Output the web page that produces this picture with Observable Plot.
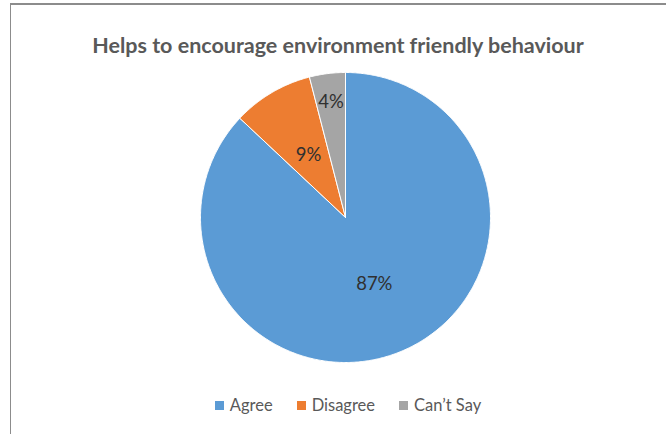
<!DOCTYPE html>
<html>
<head>
<meta charset="utf-8">
<script src="https://cdn.jsdelivr.net/npm/d3@7"></script>
<script src="https://cdn.jsdelivr.net/npm/@observablehq/plot@0.6"></script>
<style>
  body { margin: 0; background: #fff; }
  #wrap { position: relative; width: 666px; height: 434px; overflow: hidden; background: #fff; font-family: Lato, "Open Sans", sans-serif; }
  .bt { position: absolute; left: 10px; top: 3px; width: 656px; height: 2px; background: #8c8c8c; }
  .bl { position: absolute; left: 10px; top: 3px; width: 1px; height: 431px; background: #8c8c8c; }
  #title { position: absolute; left: 10px; width: 656px; top: 31px; text-align: center; font-size: 21.5px; font-weight: bold; color: #595959; line-height: 28px; }
  #chart { position: absolute; left: 0; top: 62px; }
  #legend { position: absolute; left: 0; width: 666px; top: 394px; display: flex; justify-content: center; gap: 24px; font-size: 16.5px; color: #595959; padding-left: 30px; box-sizing: border-box; line-height: 22px; }
  #legend span.item { display: inline-flex; align-items: center; }
  #legend span.sw { display: inline-block; width: 9px; height: 9px; margin-right: 6px; }
</style>
</head>
<body>
<div id="wrap">
  <div class="bt"></div>
  <div class="bl"></div>
  <div id="title">Helps to encourage environment friendly behaviour</div>
  <div id="chart"></div>
  <div id="legend"></div>
</div>
<script>
const categories = ["Agree", "Disagree", "Can\u2019t Say"];
const values = [87, 9, 4];
const colors = ["#5B9BD5", "#ED7D31", "#A5A5A5"];

const total = d3.sum(values);
const pie = d3.pie().sort(null).startAngle(0).endAngle(2 * Math.PI)(values);

// Slice outlines built from the pie angles (unit circle)
const slicePts = [];
pie.forEach((p, i) => {
  const key = categories[i];
  slicePts.push({key, x: 0, y: 0});
  const n = Math.max(2, Math.ceil((p.endAngle - p.startAngle) / (Math.PI / 360)));
  for (let k = 0; k <= n; k++) {
    const a = p.startAngle + (p.endAngle - p.startAngle) * k / n;
    slicePts.push({key, x: Math.sin(a), y: Math.cos(a)});
  }
  slicePts.push({key, x: 0, y: 0});
});

const labels = pie.map((p, i) => {
  const mid = (p.startAngle + p.endAngle) / 2;
  const share = values[i] / total;
  const r = share < 0.05 ? 0.8 : 0.5;
  return {key: categories[i], x: r * Math.sin(mid), y: r * Math.cos(mid), text: Math.round(share * 100) + "%"};
});

const chart = Plot.plot({
  width: 666,
  height: 310,
  marginLeft: 200,
  marginRight: 176,
  marginTop: 10,
  marginBottom: 10,
  x: {domain: [-1, 1], axis: null},
  y: {domain: [-1, 1], axis: null},
  color: {domain: categories, range: colors},
  style: {background: "transparent"},
  marks: [
    Plot.line(slicePts, {x: "x", y: "y", z: "key", fill: "key", stroke: "white", strokeWidth: 1, strokeLinejoin: "round"}),
    Plot.text(labels, {x: "x", y: "y", text: "text", fontSize: 18.5, fill: "#303030", fontFamily: "Lato, 'Open Sans', sans-serif"})
  ]
});
document.getElementById("chart").appendChild(chart);

const legend = document.getElementById("legend");
categories.forEach((c, i) => {
  const item = document.createElement("span");
  item.className = "item";
  const sw = document.createElement("span");
  sw.className = "sw";
  sw.style.background = colors[i];
  item.appendChild(sw);
  item.appendChild(document.createTextNode(c));
  legend.appendChild(item);
});
</script>
</body>
</html>
